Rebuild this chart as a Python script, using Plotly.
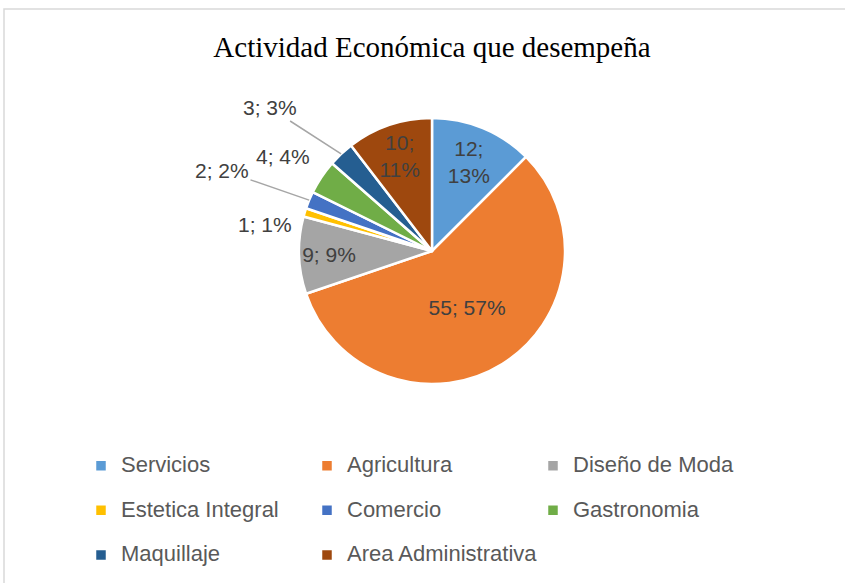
import math
import plotly.graph_objects as go

categorias = ['Servicios', 'Agricultura', 'Diseño de Moda', 'Estetica Integral',
              'Comercio', 'Gastronomia', 'Maquillaje', 'Area Administrativa']
valores = [12, 55, 9, 1, 2, 4, 3, 10]
porcentajes = ['13%', '57%', '9%', '1%', '2%', '4%', '3%', '11%']
colores = ['#5B9BD5', '#ED7D31', '#A5A5A5', '#FFC000',
           '#4472C4', '#70AD47', '#255E91', '#9E480E']
posicion_texto = ['inside', 'inside', 'inside', 'none',
                  'none', 'none', 'none', 'inside']
plantilla = ['%{value};<br>%{customdata}', '%{value}; %{customdata}', '%{value}; %{customdata}',
             '', '', '', '', '%{value};<br>%{customdata}']

# geometria del pie (pixeles)
W, H = 845, 583
cx, cy, r = 432, 251, 133

# etiquetas externas de las porciones chicas: posicion del texto y si lleva linea guia
externas = {3: (265, 225, False), 4: (222, 170, True), 5: (283, 157, False), 6: (270, 108, True)}

# linea vacia arriba para separar las filas de la leyenda
etiquetas = [f' <br><span style="font-size:22px">{c}</span>' for c in categorias]

fuente_datos = {'family': 'Liberation Sans', 'size': 21, 'color': '#404040'}

fig = go.Figure()

fig.add_trace(go.Pie(labels=etiquetas, values=valores, customdata=porcentajes,
                     texttemplate=plantilla, textposition=posicion_texto,
                     insidetextorientation='horizontal',
                     sort=False, direction='clockwise', rotation=0,
                     marker={'colors': colores, 'line': {'color': 'white', 'width': 2.5}},
                     textfont=fuente_datos,
                     domain={'x': [(cx - r) / W, (cx + r) / W],
                             'y': [1 - (cy + r) / H, 1 - (cy - r) / H]},
                     hovertext=categorias, hoverinfo='text+value+percent'))

total = sum(valores)
acumulado = 0
for i, v in enumerate(valores):
    if i in externas:
        tx, ty, linea = externas[i]
        ang = 2 * math.pi * (acumulado + v / 2) / total
        px = cx + r * math.sin(ang)
        py = cy - r * math.cos(ang)
        texto = f'{v}; {porcentajes[i]}'
        if linea:
            fig.add_annotation(x=px / W, y=1 - py / H, xref='paper', yref='paper',
                               ax=tx - px, ay=ty - py, text=texto, showarrow=True,
                               arrowhead=0, arrowwidth=1.5, arrowcolor='#A6A6A6', standoff=0,
                               font=fuente_datos)
        else:
            fig.add_annotation(x=tx / W, y=1 - ty / H, xref='paper', yref='paper',
                               xanchor='center', yanchor='middle',
                               text=texto, showarrow=False, font=fuente_datos)
    acumulado += v

fig.update_layout(title={'text': 'Actividad Económica que desempeña', 'x': 432 / W, 'xanchor': 'center',
                         'y': 1 - 47 / H, 'yanchor': 'middle',
                         'font': {'family': 'Liberation Serif', 'size': 29, 'color': 'black'}},
                  width=W, height=H,
                  margin={'l': 0, 'r': 0, 't': 0, 'b': 0},
                  paper_bgcolor='white', plot_bgcolor='white',
                  showlegend=True,
                  legend={'orientation': 'h', 'x': 81 / W, 'xanchor': 'left',
                          'y': 1 - 428 / H, 'yanchor': 'top', 'valign': 'bottom',
                          'bgcolor': 'rgba(0,0,0,0)',
                          'entrywidth': 181, 'entrywidthmode': 'pixels',
                          'font': {'family': 'Liberation Sans', 'size': 16, 'color': '#595959'}},
                  shapes=[{'type': 'rect', 'xref': 'paper', 'yref': 'paper',
                           'x0': 4 / W, 'x1': 1.01, 'y0': -0.01, 'y1': 1 - 9 / H,
                           'line': {'color': '#D9D9D9', 'width': 1.5}}])

fig.write_html('out.html', config={'displayModeBar': False},
               post_script="document.body.style.margin='0';")
